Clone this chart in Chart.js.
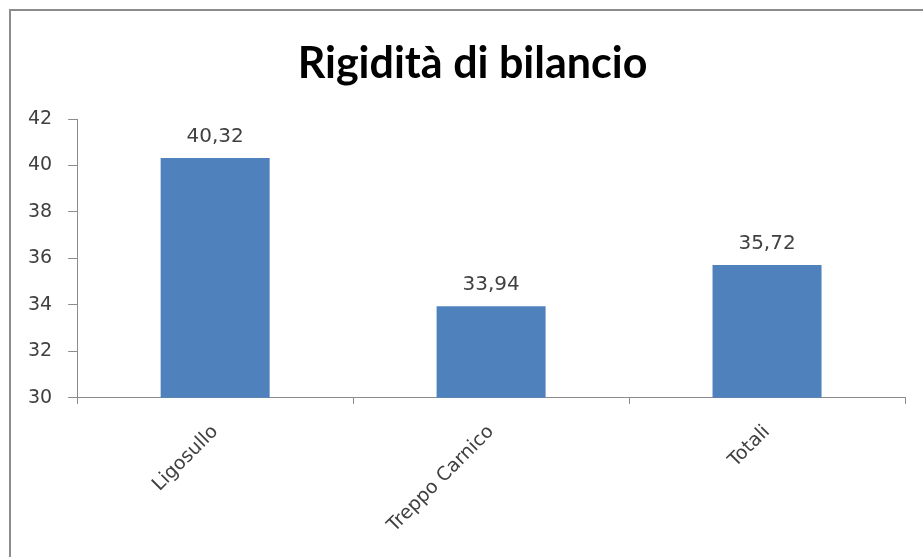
<!DOCTYPE html>
<html>
<head>
<meta charset="utf-8">
<script src="https://cdn.jsdelivr.net/npm/chart.js@4/dist/chart.umd.min.js"></script>
<style>
  html, body { margin: 0; padding: 0; background: #fff; overflow: hidden; }
  #frame { position: absolute; left: 9px; top: 9px; width: 960px; height: 600px; border: 2px solid #8c8c8c; box-sizing: border-box; }
  #wrap { position: absolute; left: 0; top: 0; width: 923px; height: 557px; }
</style>
</head>
<body>
<div id="frame"></div>
<div id="wrap"><canvas id="myChart"></canvas></div>
<script>
// Rigidità di bilancio
const chartTitle = 'Rigidità di bilancio'
const categories = ['Ligosullo', 'Treppo Carnico', 'Totali']
const values = [40.32, 33.94, 35.72]
const yTicks = [30, 32, 34, 36, 38, 40, 42]

const fmt = v => v.toFixed(2).replace('.', ',')

// valori sopra le barre
const valueLabels = {
    id: 'valueLabels',
    afterDatasetsDraw(chart) {
        const ctx = chart.ctx
        const meta = chart.getDatasetMeta(0)
        ctx.save()
        ctx.font = '20px "DejaVu Sans"'
        ctx.fillStyle = '#404040'
        ctx.textAlign = 'center'
        ctx.textBaseline = 'bottom'
        meta.data.forEach((bar, i) => {
            ctx.fillText(fmt(values[i]), bar.x, bar.y - 11)
        })
        ctx.restore()
    }
}

// titolo centrato sulla cornice del grafico, non sull'area di disegno
const titleDraw = {
    id: 'titleDraw',
    afterDraw(chart) {
        const ctx = chart.ctx
        ctx.save()
        ctx.font = 'bold 43px Lato'
        ctx.fillStyle = '#000'
        ctx.textAlign = 'center'
        ctx.textBaseline = 'middle'
        ctx.fillText(chartTitle, chart.width / 2 + 11, 64)
        ctx.restore()
    }
}

const ctx = document.getElementById('myChart').getContext('2d')

let myChart = new Chart(ctx, {
    type: 'bar',
    data: {
        labels: categories,
        datasets: [
            {
                data: values,
                backgroundColor: '#4f81bd',
                borderWidth: 0,
                barPercentage: 0.79,
                categoryPercentage: 0.5
            }
        ]
    },
    options: {
        responsive: true,
        maintainAspectRatio: false,
        animation: false,
        layout: { padding: { left: 12, right: 18, top: 119, bottom: 3 } },
        plugins: {
            legend: { display: false },
            tooltip: { enabled: false },
            title: { display: false }
        },
        scales: {
            x: {
                grid: { drawOnChartArea: false, drawTicks: true, tickLength: 6, color: '#8c8c8c', offset: true },
                border: { color: '#8c8c8c', width: 1 },
                ticks: {
                    color: '#404040',
                    font: { family: 'DejaVu Sans', size: 19 },
                    minRotation: 45,
                    maxRotation: 45,
                    padding: 17
                }
            },
            y: {
                min: 30,
                max: 42,
                afterBuildTicks: axis => { axis.ticks = yTicks.map(v => ({ value: v })) },
                grid: { drawOnChartArea: false, drawTicks: true, tickLength: 9, color: '#8c8c8c' },
                border: { color: '#8c8c8c', width: 1 },
                ticks: {
                    color: '#404040',
                    font: { family: 'DejaVu Sans', size: 19 },
                    padding: 16
                }
            }
        }
    },
    plugins: [valueLabels, titleDraw]
})
</script>
</body>
</html>
